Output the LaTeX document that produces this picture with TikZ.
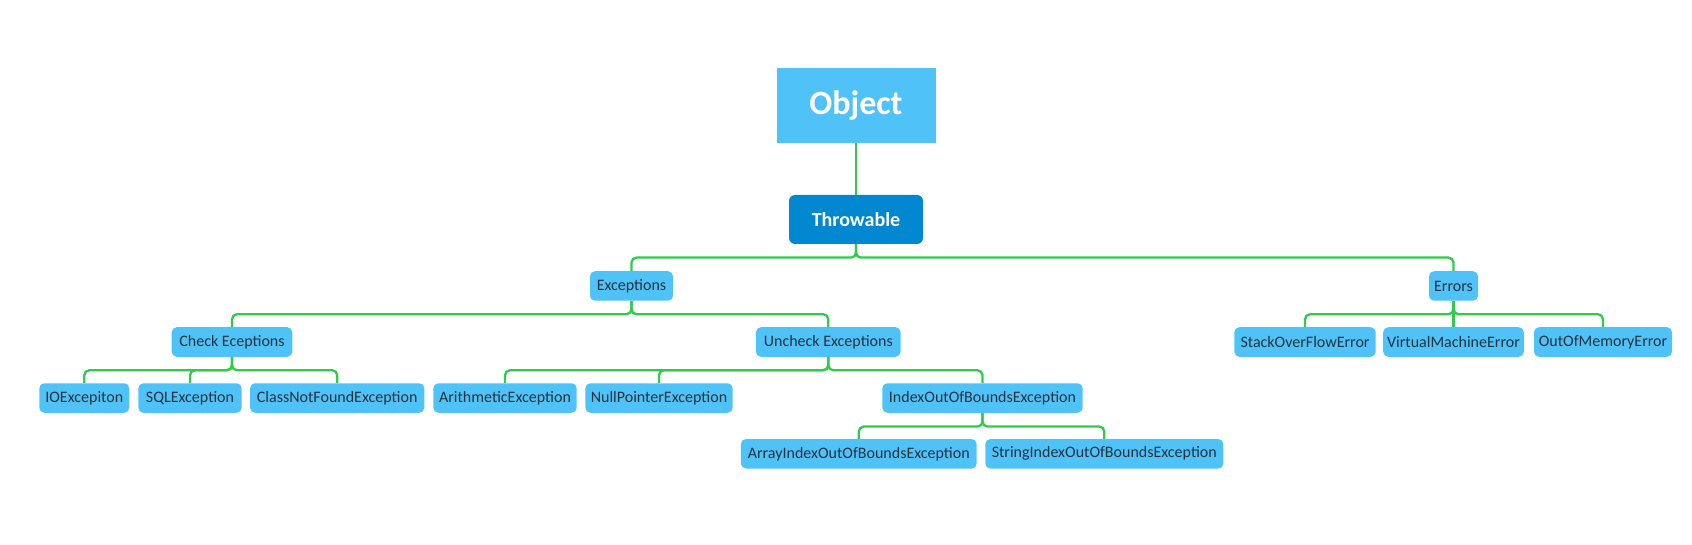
\documentclass[tikz,border=0pt]{standalone}
\usepackage{fontspec}
\setmainfont{Carlito}
\usetikzlibrary{positioning,calc}

\definecolor{skyblue}{RGB}{79,195,247}
\definecolor{deepblue}{RGB}{2,136,209}
\definecolor{linkgreen}{RGB}{46,204,72}
\definecolor{labelink}{RGB}{33,50,66}

\tikzset{
  objbox/.style={rectangle, fill=skyblue, minimum width=159pt, minimum height=75pt, inner sep=0pt,
    font=\fontsize{34}{36}\selectfont\bfseries, text=white},
  throwbox/.style={rectangle, rounded corners=6pt, fill=deepblue, minimum width=134pt, minimum height=49pt, inner sep=0pt,
    font=\fontsize{20}{22}\selectfont\bfseries, text=white},
  smallbox/.style={rectangle, rounded corners=5pt, fill=skyblue, minimum height=29.5pt, inner sep=0pt,
    font=\fontsize{16}{18}\selectfont, text=labelink},
  link/.style={draw=linkgreen, line width=2.3pt, rounded corners=5pt}
}

\begin{document}
\begin{tikzpicture}[x=1pt, y=-1pt]

\useasboundingbox (0,0) rectangle (1692,545);

% Root and Throwable
\node[objbox] (obj) at (856, 105.5) {Object};
\node[throwbox] (thr) at (856, 219.5) {Throwable};

% Second level
\node[smallbox, minimum width=83pt] (exc) at (631.5, 286) {Exceptions};
\node[smallbox, minimum width=49pt] (err) at (1453.5, 286) {Errors};

% Third level
\node[smallbox, minimum width=120.6pt] (chk) at (232, 342) {Check Eceptions};
\node[smallbox, minimum width=144.7pt] (unc) at (828.3, 342) {Uncheck Exceptions};
\node[smallbox, minimum width=141.4pt] (sof) at (1305, 342) {StackOverFlowError};
\node[smallbox, minimum width=140.7pt] (vme) at (1453.5, 342) {VirtualMachineError};
\node[smallbox, minimum width=138pt] (oom) at (1603, 342) {OutOfMemoryError};

% Fourth level
\node[smallbox, minimum width=90pt] (ioe) at (84.3, 398) {IOExcepiton};
\node[smallbox, minimum width=103.4pt] (sql) at (190, 398) {SQLException};
\node[smallbox, minimum width=174.3pt] (cnf) at (337.2, 398) {ClassNotFoundException};
\node[smallbox, minimum width=143.4pt] (ari) at (505, 398) {ArithmeticException};
\node[smallbox, minimum width=147.4pt] (npe) at (659, 398) {NullPointerException};
\node[smallbox, minimum width=200.4pt] (iob) at (982.5, 398) {IndexOutOfBoundsException};

% Fifth level
\node[smallbox, minimum width=235.7pt] (arr) at (858.8, 453.8) {ArrayIndexOutOfBoundsException};
\node[smallbox, minimum width=238pt] (sie) at (1104.3, 453.8) {StringIndexOutOfBoundsException};

% Connections
\draw[link] (obj) -- (thr);
\foreach \c in {exc,err} \draw[link] (thr.south) -- ++(0,13.4) -| (\c.north);
\foreach \c in {chk,unc} \draw[link] (exc.south) -- ++(0,13.3) -| (\c.north);
\foreach \c in {sof,oom} \draw[link] (err.south) -- ++(0,13.3) -| (\c.north);
\draw[link] (err) -- (vme);
\foreach \c in {ioe,sql,cnf} \draw[link] (chk.south) -- ++(0,13.3) -| (\c.north);
\foreach \c in {ari,npe,iob} \draw[link] (unc.south) -- ++(0,13.3) -| (\c.north);
\foreach \c in {arr,sie} \draw[link] (iob.south) -- ++(0,13.6) -| (\c.north);

\end{tikzpicture}
\end{document}
